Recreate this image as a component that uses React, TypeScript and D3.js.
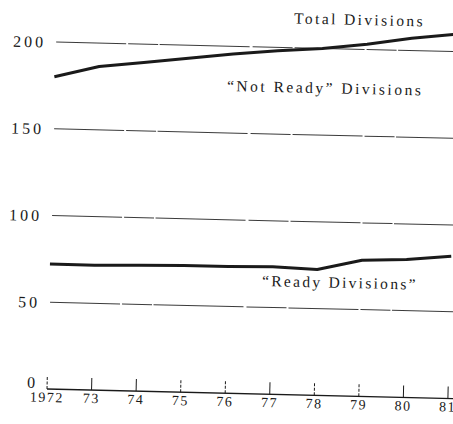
import { scaleLinear, line, curveLinear } from 'd3'

const width = 453
const height = 424

// values
const years = [1972, 1973, 1974, 1975, 1976, 1977, 1978, 1979, 1980, 1981]
const yearLabels = ['1972', '73', '74', '75', '76', '77', '78', '79', '80', '81']
const totalDivisions = [180, 186.5, 189.5, 192.5, 195.5, 198, 200, 203, 207, 210]
const readyDivisions = [72, 72, 72.5, 73, 73, 73.5, 72.5, 78.5, 79.5, 82]
const yTicks = [0, 50, 100, 150, 200]

// the scanned page sits a little tilted
const tilt = 1.35
const origin = { x: 47, y: 389 }

const ink = '#1a1a1a'
const font = '"Liberation Serif", "Times New Roman", serif'

function App() {
  const xScale = scaleLinear().domain([1972, 1981]).range([origin.x, 448])
  const yScale = scaleLinear().domain([0, 200]).range([origin.y, 42])

  const pathOf = (vals: number[]) =>
    line<number>()
      .x((_, i) => xScale(years[i]))
      .y((d) => yScale(d))
      .curve(curveLinear)(vals) || ''

  const right = 470

  return (
    <svg
      width={width}
      height={height}
      style={{ position: 'absolute', left: 0, top: 0, background: '#fff' }}
    >
      <g transform={`rotate(${tilt}, ${origin.x}, ${origin.y})`} fontFamily={font} fill={ink}>
        {yTicks.map((t) => (
          <g key={t}>
            <line
              x1={t === 0 ? xScale(1972) : xScale(1972) + 1}
              x2={right}
              y1={yScale(t)}
              y2={yScale(t)}
              stroke={ink}
              strokeWidth={t === 0 ? 1.3 : 1}
              strokeDasharray={t === 0 ? undefined : '70 2 30 1.5 90 3 40 2'}
              opacity={t === 0 ? 1 : 0.85}
            />
            <text
              x={38}
              y={yScale(t)}
              dy={t === 0 ? '-0.05em' : '0.35em'}
              textAnchor="end"
              fontSize={16}
              letterSpacing={3}
            >
              {t}
            </text>
          </g>
        ))}

        {years.map((yr, i) => (
          <g key={yr}>
            <line
              x1={xScale(yr)}
              x2={xScale(yr)}
              y1={yScale(0)}
              y2={yScale(0) - 12}
              stroke={ink}
              strokeWidth={1}
              strokeDasharray={[0, 3, 4, 6, 7].includes(i) ? '3 1.5' : undefined}
            />
            <text
              x={xScale(yr)}
              y={yScale(0) + 13}
              textAnchor="middle"
              fontSize={14}
              letterSpacing={1.5}
            >
              {yearLabels[i]}
            </text>
          </g>
        ))}

        <path d={pathOf(totalDivisions)} fill="none" stroke={ink} strokeWidth={3} strokeLinejoin="round" />
        <path d={pathOf(readyDivisions)} fill="none" stroke={ink} strokeWidth={3} strokeLinejoin="round" />

        <text x={xScale(1977.35)} y={yScale(214)} fontSize={15.5} letterSpacing={2.4}>
          Total Divisions
        </text>
        <text x={xScale(1975.88)} y={yScale(174.2)} fontSize={15.5} letterSpacing={2.5}>
          “Not Ready” Divisions
        </text>
        <text x={xScale(1976.77)} y={yScale(62.3)} fontSize={15.5} letterSpacing={2.3}>
          “Ready Divisions”
        </text>
      </g>
    </svg>
  )
}

export default App
